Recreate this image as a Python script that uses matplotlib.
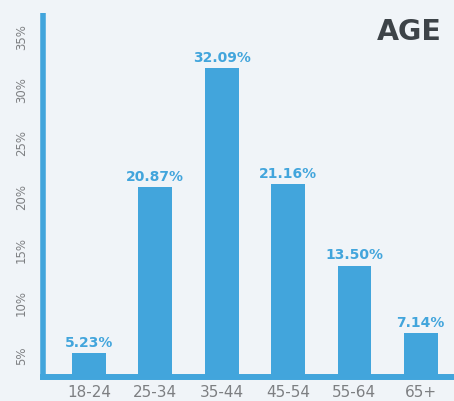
import matplotlib.pyplot as plt
import numpy as np

# data
age_groups = ['18-24', '25-34', '35-44', '45-54', '55-64', '65+']
shares = [5.23, 20.87, 32.09, 21.16, 13.50, 7.14]
value_labels = ['5.23%', '20.87%', '32.09%', '21.16%', '13.50%', '7.14%']
y_ticks = [5, 10, 15, 20, 25, 30, 35]
y_tick_labels = ['5%', '10%', '15%', '20%', '25%', '30%', '35%']

blue = '#42a5dc'
bg = '#f0f4f8'
grey = '#7d7f82'

plt.rcParams['font.family'] = ['DejaVu Sans']

fig = plt.figure(figsize=(4.54, 4.01), dpi=100, facecolor=bg)
ax = fig.add_axes([0.095, 0.061, 0.905, 0.906], facecolor=bg)

x = np.arange(len(age_groups))
ax.bar(x, shares, width=0.51, color=blue, zorder=1)

for xi, v, lab in zip(x, shares, value_labels):
    ax.annotate(lab, (xi, v), xytext=(0, 2.5), textcoords='offset points',
                ha='center', va='bottom', fontsize=10, fontweight='bold',
                color=blue)

ax.set_xlim(-0.69, 5.5)
ax.set_ylim(3.04, 37.27)

ax.set_xticks(x)
ax.set_xticklabels(age_groups, fontsize=11, color=grey)
ax.set_yticks(y_ticks)
ax.set_yticklabels(y_tick_labels, fontsize=8.5, color=grey,
                   rotation=90, va='center')
ax.tick_params(axis='x', length=0, pad=6)
ax.tick_params(axis='y', length=0, pad=11)

for side in ['top', 'right']:
    ax.spines[side].set_visible(False)
ax.spines['left'].set_color(blue)
ax.spines['left'].set_linewidth(4)
ax.spines['bottom'].set_color(blue)
ax.spines['bottom'].set_linewidth(4.3)
ax.spines['left'].set_capstyle('butt')

fig.text(0.972, 0.9, 'AGE', ha='right', va='baseline', fontsize=20.5,
         fontweight='bold', color='#3d4348')

plt.savefig('out.png', dpi=100, facecolor=bg)
